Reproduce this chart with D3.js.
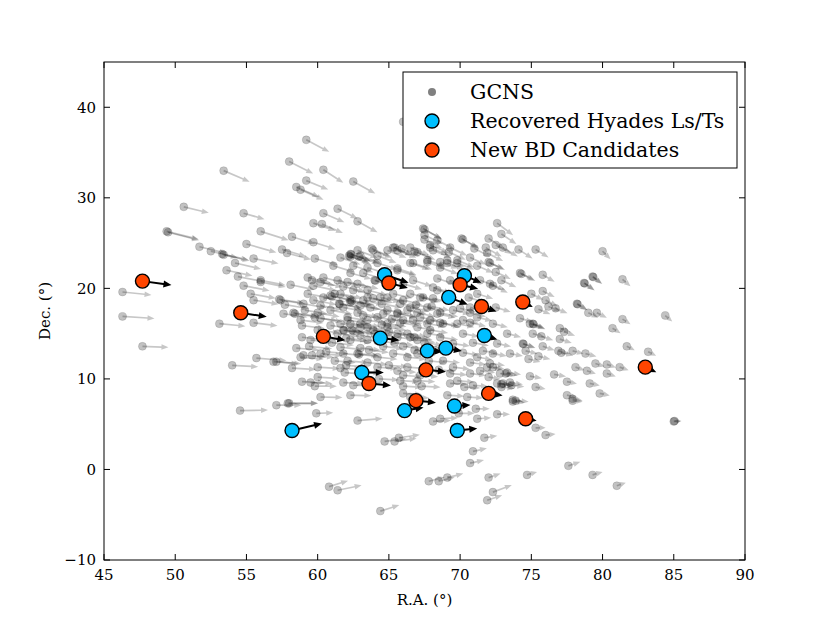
<!DOCTYPE html>
<html>
<head>
<meta charset="utf-8">
<script src="https://cdn.jsdelivr.net/npm/d3@7"></script>
<style>
  body { margin: 0; background: #fff; }
  text { font-family: "DejaVu Serif", serif; }
</style>
</head>
<body>
<svg id="drawing_region"></svg>
<script>
// [ra, dec, pmra, pmdec]
const gcns = [
  [59.2,36.4,92,-48],[58.0,34.0,96,-48],[53.4,33.0,104,-44],[59.2,31.9,88,-36],[58.5,31.2,92,-40],
  [58.8,30.9,92,-40],[50.6,29.0,100,-24],[54.8,28.3,84,-24],[56.0,26.3,112,-36],[58.2,25.7,92,-28],
  [59.7,27.2,88,-30],[59.7,25.1,88,-28],[49.4,26.3,128,-32],[49.5,26.2,124,-32],[51.7,24.6,108,-26],
  [52.5,24.1,108,-26],[53.3,23.8,104,-24],[53.4,23.7,104,-24],[55.0,24.9,120,-34],[57.5,24.3,96,-28],
  [57.85,23.9,96,-26],[54.2,22.8,104,-24],[55.5,23.3,100,-20],[53.6,22.0,104,-22],[54.4,21.3,104,-20],
  [56.0,20.9,100,-20],[54.8,20.3,104,-20],[58.1,20.4,96,-20],[55.3,19.4,100,-18],[55.5,18.7,100,-16],
  [57.3,18.8,100,-16],[57.4,18.7,100,-16],[59.0,18.3,92,-16],[58.3,17.3,96,-14],[58.4,17.2,96,-14],
  [57.6,17.2,96,-14],[59.7,18.7,92,-18],[59.6,20.9,92,-22],[59.8,23.3,92,-26],[46.3,19.6,116,-12],
  [46.3,16.9,128,-8],[53.1,16.1,104,-10],[55.5,16.2,96,-12],[58.8,16.5,92,-12],[58.9,14.6,92,-10],
  [47.7,13.6,104,-4],[58.5,13.4,92,-8],[58.8,12.4,92,-8],[54.0,11.5,104,-6],[55.7,12.3,120,-10],
  [56.9,11.9,100,-8],[57.1,11.9,100,-8],[58.2,11.2,96,-6],[58.9,9.7,92,-4],[54.55,6.5,112,2],
  [57.1,7.1,100,0],[57.9,7.3,120,0],[58.0,7.3,116,0],[59.8,9.2,88,0],[62.5,9.3,84,-2],
  [59.9,6.2,68,2],[62.8,5.4,100,8],[64.7,3.1,88,12],[65.4,3.1,88,12],[65.7,3.5,84,12],
  [66.0,9.2,76,-4],[67.3,9.2,76,-4],[66.5,8.0,76,-4],[68.1,5.3,72,4],[68.6,5.6,72,4],
  [70.3,9.1,64,-4],[70.5,8.0,64,-4],[69.9,6.2,64,0],[71.2,5.6,56,4],[71.1,6.7,56,0],
  [71.7,3.5,52,8],[70.9,2.0,56,12],[70.7,0.7,56,12],[60.8,-1.9,76,24],[61.4,-2.3,96,20],
  [64.4,-4.6,76,24],[67.8,-1.3,64,16],[68.5,-1.3,64,16],[69.1,-0.9,64,16],[72.0,-0.9,48,16],
  [72.3,-2.5,76,28],[71.9,-3.4,60,20],[72.6,6.1,52,0],[74.7,-0.6,40,12],[75.3,4.6,40,0],
  [76.0,3.8,40,4],[77.6,0.4,48,16],[79.3,-0.6,40,12],[81.0,-1.8,36,12],[85.0,5.3,28,0],
  [85.05,5.35,28,0],[73.7,7.5,48,-4],[77.9,7.6,40,-4],
  [72.6,27.2,64,-48],[72.9,26.0,60,-40],[72.0,25.5,64,-40],[72.5,24.8,64,-36],[73.0,24.5,60,-36],
  [71.8,24.5,64,-36],[71.9,23.9,64,-32],[74.1,24.3,56,-36],[75.3,24.3,52,-32],[80.0,24.1,32,-32],
  [72.0,22.9,60,-28],[72.1,22.8,60,-28],[74.2,21.7,56,-28],[74.3,21.6,56,-28],[75.8,21.5,48,-28],
  [79.3,21.3,36,-28],[79.35,21.25,36,-28],[78.7,20.6,40,-28],[78.75,20.55,40,-28],[81.4,21.0,32,-28],
  [72.5,21.8,60,-28],[72.9,20.9,60,-28],[72.3,20.3,60,-28],[75.0,19.4,48,-24],[75.8,19.7,48,-24],
  [76.0,18.7,48,-24],[78.2,18.3,40,-24],[78.25,18.25,40,-24],[79.0,17.3,40,-20],[79.6,17.3,40,-20],
  [75.5,17.7,48,-20],[76.7,17.8,48,-20],[76.2,18.0,48,-20],[84.4,17.0,28,-24],[81.4,16.6,32,-20],
  [80.7,15.6,32,-20],[75.1,16.1,48,-20],[75.15,16.05,48,-20],[77.0,15.6,44,-16],[77.3,15.2,44,-16],
  [75.7,14.7,48,-16],[74.4,13.9,48,-16],[74.45,13.85,48,-16],[75.8,13.6,48,-16],[77.0,14.4,48,-16],
  [76.9,13.1,44,-12],[77.9,13.1,44,-12],[78.8,12.8,44,-12],[81.7,13.6,32,-16],[83.2,13.0,32,-16],
  [74.6,13.1,48,-12],[74.8,12.2,48,-12],[75.5,12.5,48,-12],[77.1,12.9,48,-12],[78.1,11.3,36,-12],
  [78.9,10.9,36,-12],[79.5,11.7,36,-12],[80.3,11.6,36,-12],[81.2,11.3,36,-12],[80.3,10.6,36,-12],
  [76.6,10.5,48,-8],[74.9,10.3,48,-8],[73.2,10.6,48,-8],[72.3,11.3,48,-8],[72.0,10.2,48,-8],
  [79.1,9.5,40,-8],[77.5,9.7,40,-8],[73.7,7.7,40,-8],[75.3,9.1,40,-8],[77.5,8.2,40,-8],
  [77.9,7.8,40,-8],[79.8,8.4,40,-8],[72.9,9.4,52,-8],[73.5,9.6,52,-8],
  [60.4,33.1,80,-52],[62.5,31.8,88,-48],[61.4,28.8,80,-40],[60.4,28.3,84,-36],[62.8,27.4,80,-44],
  [60.3,27.1,84,-36],[67.4,26.6,72,-40],[67.5,26.5,72,-40],[67.5,25.4,72,-36],[70.1,25.5,64,-36],
  [70.2,25.4,64,-36],[63.8,24.4,72,-32],[65.4,24.5,72,-32],[65.9,24.4,72,-32],[66.8,24.1,72,-32],
  [67.9,24.8,72,-32],[69.3,24.5,68,-32],[71.0,24.4,64,-32],[62.2,23.6,80,-28],[62.3,23.5,80,-28],
  [61.6,23.4,80,-28],[62.9,23.5,80,-28],[66.0,38.4,72,-44],
  [56.0,20.7,100,-20],[59.7,20.3,92,-20],[60.2,20.7,88,-20],[61.8,20.2,88,-20],[62.8,20.5,84,-20],
  [63.5,19.8,80,-20],[57.7,18.2,96,-16],[60.2,18.1,88,-16],[60.9,19.2,88,-18],[61.0,19.1,88,-18],
  [61.2,19.4,88,-18],[61.5,18.3,88,-16],[61.55,18.25,88,-16],[62.4,18.6,84,-16],[63.0,18.1,80,-16],
  [59.8,16.8,92,-14],[60.2,16.7,88,-14],[60.9,15.9,88,-12],[62.1,16.8,84,-14],[62.3,16.1,84,-12],
  [63.0,16.1,80,-12],[63.5,15.7,80,-12],[62.4,15.4,84,-12],[62.5,15.3,84,-12],[61.8,15.4,84,-12],
  [61.85,15.35,84,-12],[61.6,13.5,88,-10],[62.8,12.8,84,-8],[62.9,12.7,84,-8],[59.6,12.6,88,-8],
  [62.1,12.0,84,-8],[63.5,11.8,80,-8],[60.0,10.2,88,-6],[61.9,10.7,84,-6],
  [67.5,25.9,72,-36],[68.4,25.3,68,-36],[62.3,23.8,80,-28],[62.35,23.75,80,-28],[63.0,23.6,80,-28],
  [64.2,23.6,76,-28],[64.9,24.2,76,-30],[65.6,24.2,76,-30],[67.0,24.0,72,-30],[68.1,24.2,72,-30],
  [69.2,24.0,68,-30],[61.1,22.5,84,-26],[62.5,22.5,80,-26],[63.5,22.3,80,-26],[64.0,20.9,80,-24],
  [64.05,20.85,80,-24],[65.6,22.2,76,-26],[66.5,22.8,76,-26],[67.7,22.9,72,-26],[68.6,22.9,72,-26],
  [69.1,22.8,68,-26],[69.8,23.1,68,-28],[71.2,22.5,64,-28],[59.3,21.2,92,-22],[60.4,21.2,88,-22],
  [61.4,20.9,84,-22],[62.1,20.7,84,-22],[66.0,20.5,76,-22],[66.7,20.9,76,-24],[68.1,20.1,72,-22],
  [68.4,21.1,72,-24],[71.4,20.9,64,-24],[72.1,20.5,60,-24],[59.3,19.4,92,-18],[60.4,19.0,88,-18],
  [62.3,18.7,84,-18],[63.2,18.7,80,-18],[63.9,18.9,80,-18],[64.9,19.0,76,-18],[66.0,18.7,76,-18],
  [67.2,19.0,72,-18],[68.1,18.9,72,-18],[70.6,19.0,64,-20],[71.2,19.4,64,-20],[59.1,17.6,92,-16],
  [60.0,17.3,88,-16],[60.9,17.6,88,-16],[61.8,17.9,84,-16],[62.8,17.3,84,-16],[63.7,17.9,80,-16],
  [64.6,17.2,80,-16],[65.6,17.3,76,-16],[66.3,17.6,76,-16],[67.0,17.3,72,-16],[67.7,17.9,72,-16],
  [68.6,17.3,72,-16],[69.5,17.6,68,-16],[70.7,17.9,64,-18],[72.5,17.9,60,-18],[58.9,15.9,92,-12],
  [61.6,16.1,88,-12],[63.5,16.5,80,-14],[64.9,16.1,76,-12],[65.8,16.2,76,-12],[66.7,16.5,76,-12],
  [67.7,16.1,72,-12],[68.6,16.2,72,-12],[69.8,16.1,68,-14],[70.7,16.2,64,-14],[72.3,16.1,60,-14],
  [59.5,14.3,92,-10],[61.4,15.0,88,-10],[62.3,14.3,84,-10],[63.5,14.3,80,-10],[65.6,15.0,76,-10],
  [66.5,14.6,76,-10],[67.7,15.0,72,-10],[68.6,14.6,72,-10],[70.2,15.0,64,-12],[70.9,14.0,64,-12],
  [59.0,12.6,92,-8],[60.2,12.8,88,-8],[61.8,12.8,84,-8],[63.0,13.4,80,-8],[64.2,12.4,80,-8],
  [65.3,12.8,76,-8],[66.3,12.4,76,-8],[67.0,12.8,72,-8],[70.2,12.9,64,-10],[71.2,12.4,60,-10],
  [72.3,12.8,56,-10],[60.0,11.3,88,-6],[61.6,11.2,84,-6],[64.2,11.3,80,-6],[65.6,10.9,76,-6],
  [66.0,10.4,76,-6],[69.5,11.3,68,-8],[70.7,10.6,64,-8],[71.9,11.3,60,-8],[59.5,9.6,88,-4],
  [61.8,9.6,84,-4],[65.8,9.8,76,-4],[69.3,9.5,68,-4],[72.6,9.5,56,-6],[60.2,8.0,88,-2],
  [62.3,8.2,84,-2],[69.1,8.2,68,-4],
  [72.6,13.9,56,-12],[73.3,15.0,56,-14],[74.9,16.1,52,-16],[74.2,16.7,52,-16],[75.1,15.0,48,-14],
  [73.5,12.8,52,-10],[71.6,13.1,60,-10],[70.7,11.8,64,-8],[71.4,10.9,60,-8],[72.1,11.7,60,-8],
  [72.8,10.6,56,-8],[73.3,10.7,56,-8],[66.3,11.3,76,-6],[67.0,9.8,72,-4],[66.0,8.4,76,-4],
  [70.9,9.3,60,-4],[73.0,9.5,52,-6],[73.6,9.3,52,-6],[73.9,7.6,52,-4],[72.9,9.1,52,-6],
  [69.3,10.6,68,-6],[69.8,9.8,68,-6],[68.8,12.0,68,-8],[69.5,13.9,68,-10],[66.8,14.6,72,-10],
  [71.2,16.8,60,-14],[70.2,16.5,64,-14],[70.0,17.8,64,-16],[70.7,17.3,64,-16],
  [66.5,17.9,76,-16],[67.2,16.8,72,-14],[67.9,16.5,72,-14],[66.0,16.5,76,-14],[67.0,15.7,72,-12],
  [66.3,15.0,76,-12],[67.9,15.4,72,-12],[65.6,17.2,76,-16],[64.9,17.6,76,-16],[64.2,16.8,80,-14],
  [62.3,18.5,84,-16],[62.1,16.5,84,-14],[63.0,15.7,80,-12],[63.9,15.4,80,-12],[64.9,15.7,76,-12],
  [65.6,14.6,76,-10],[67.0,14.3,72,-10],[68.4,17.2,72,-16],[68.8,16.1,68,-14],[61.6,19.4,88,-18],
  [62.5,19.8,84,-18],[63.5,19.0,80,-18],[64.4,19.0,80,-18],[65.3,19.4,76,-18],[66.5,19.4,76,-18],
  [67.4,19.0,72,-18],[68.4,19.8,72,-20],[69.3,20.9,68,-22],[62.3,21.7,84,-24],[63.2,21.7,80,-24],
  [64.2,22.8,80,-26],[65.6,22.0,76,-24],[66.7,22.8,76,-26],[67.7,23.1,72,-26],[68.6,22.3,72,-26],
  [69.8,22.8,68,-26],[70.7,23.4,64,-28],[62.8,24.2,80,-30],[63.9,24.2,76,-30],[65.3,24.5,76,-30],
  [66.5,24.5,76,-30],[67.9,24.5,72,-30],[69.1,23.1,68,-28],
  [64.5,16.0,80,-12],[65.2,16.6,76,-14],[65.0,15.2,76,-12],[64.0,15.0,80,-12],[63.6,13.2,80,-10],
  [64.6,13.6,80,-10],[66.0,13.6,76,-10],[65.4,14.0,76,-10],[66.8,13.2,72,-8],[64.2,14.2,80,-10],
  [63.0,14.8,80,-10],[62.0,14.5,84,-10],[65.8,18.3,76,-16],[64.5,18.3,80,-16],[63.2,17.0,80,-14],
  [66.9,18.2,72,-16],[68.0,18.0,72,-16],[67.5,14.0,72,-10],[68.2,13.2,72,-8],[61.0,14.0,88,-10],
  [60.6,13.0,88,-8],[61.2,12.0,84,-8],[62.0,11.5,84,-6],[63.0,10.8,80,-6],[64.3,10.0,80,-4],
  [65.0,11.5,76,-6],[67.8,12.0,72,-8],[68.5,11.0,68,-6],[67.2,10.4,72,-6],[60.0,15.4,88,-12],
  [59.4,13.6,92,-10]
];

const hyades = [
  [58.2,4.3,120,28],[63.1,10.7,88,0],[66.1,6.5,76,12],[69.6,7.0,64,4],[69.8,4.3,80,8],
  [64.7,21.5,96,-32],[70.3,21.4,68,-28],[69.2,19.0,76,-28],[64.4,14.5,76,-8],[67.7,13.1,60,-4],
  [69.0,13.4,64,-12],[71.7,14.8,52,-16]
];

const candidates = [
  [47.7,20.8,116,-16],[54.6,17.3,104,-16],[60.4,14.7,88,-16],[65.0,20.6,76,-20],[70.0,20.4,72,-16],
  [71.5,18.0,60,-20],[74.4,18.5,40,-20],[63.6,9.5,88,-8],[67.6,11.0,80,-8],[66.9,7.6,80,-8],
  [72.0,8.4,56,-8],[74.6,5.6,44,-8],[83.0,11.3,44,-20]
];

const xTicks = [45, 50, 55, 60, 65, 70, 75, 80, 85, 90];
const yTicks = [-10, 0, 10, 20, 30, 40];
const legendLabels = ["GCNS", "Recovered Hyades Ls/Ts", "New BD Candidates"];

class QuiverPlot {
  constructor(config) {
    this.config = config;
    this.init();
  }

  init() {
    let self = this;
    const c = self.config;
    self.svg = d3.select(c.parent).attr('width', c.width).attr('height', c.height);
    self.inner_width = c.width - c.margin.left - c.margin.right;
    self.inner_height = c.height - c.margin.top - c.margin.bottom;
    self.chart = self.svg.append('g')
      .attr('transform', `translate(${c.margin.left},${c.margin.top})`);

    self.xscale = d3.scaleLinear().domain([45, 90]).range([0, self.inner_width]);
    self.yscale = d3.scaleLinear().domain([-10, 45]).range([self.inner_height, 0]);
    // quiver scale: mas/yr -> px
    self.pmscale = d3.scaleLinear().domain([0, 100]).range([0, 25]);
  }

  arrowPath(d, shaft, headLen, headW) {
    let self = this;
    const x0 = self.xscale(d[0]), y0 = self.yscale(d[1]);
    const dx = self.pmscale(d[2]), dy = -self.pmscale(d[3]);
    const L = Math.hypot(dx, dy);
    const ux = dx / L, uy = dy / L, nx = -uy, ny = ux;
    const hl = Math.min(headLen, L * 0.6);
    const hw = Math.min(headW, hl * 0.9) / 2, sw = shaft / 2;
    const bx = x0 + ux * (L - hl), by = y0 + uy * (L - hl);
    const p = [
      [x0 + nx * sw, y0 + ny * sw], [bx + nx * sw, by + ny * sw], [bx + nx * hw, by + ny * hw],
      [x0 + dx, y0 + dy],
      [bx - nx * hw, by - ny * hw], [bx - nx * sw, by - ny * sw], [x0 - nx * sw, y0 - ny * sw]
    ];
    return 'M' + p.map(q => q[0].toFixed(2) + ',' + q[1].toFixed(2)).join('L') + 'Z';
  }

  render() {
    let self = this;
    const w = self.inner_width, h = self.inner_height;

    const plot = self.chart.append('g');

    const g1 = plot.append('g');
    g1.selectAll('path').data(gcns).join('path')
      .attr('d', d => self.arrowPath(d, 1.7, 7, 5.5))
      .attr('fill', '#000').attr('fill-opacity', 0.22);
    g1.selectAll('circle').data(gcns).join('circle')
      .attr('cx', d => self.xscale(d[0])).attr('cy', d => self.yscale(d[1]))
      .attr('r', 4)
      .attr('fill', '#000').attr('fill-opacity', 0.24)
      .attr('stroke', '#000').attr('stroke-opacity', 0.12).attr('stroke-width', 1);

    [[hyades, '#00bfff'], [candidates, '#ff4500']].forEach(([set, col]) => {
      const g = plot.append('g');
      g.selectAll('path').data(set).join('path')
        .attr('d', d => self.arrowPath(d, 2, 8, 7))
        .attr('fill', '#000');
      g.selectAll('circle').data(set).join('circle')
        .attr('cx', d => self.xscale(d[0])).attr('cy', d => self.yscale(d[1]))
        .attr('r', 7)
        .attr('fill', col)
        .attr('stroke', '#000').attr('stroke-width', 1.4);
    });

    // frame and inward ticks on all four sides
    self.chart.append('rect')
      .attr('width', w).attr('height', h)
      .attr('fill', 'none').attr('stroke', '#000').attr('stroke-width', 1);

    const ticks = self.chart.append('g').attr('stroke', '#000').attr('stroke-width', 1);
    xTicks.forEach(t => {
      const x = self.xscale(t);
      ticks.append('line').attr('x1', x).attr('x2', x).attr('y1', h).attr('y2', h - 6);
      ticks.append('line').attr('x1', x).attr('x2', x).attr('y1', 0).attr('y2', 6);
    });
    yTicks.forEach(t => {
      const y = self.yscale(t);
      ticks.append('line').attr('x1', 0).attr('x2', 6).attr('y1', y).attr('y2', y);
      ticks.append('line').attr('x1', w).attr('x2', w - 6).attr('y1', y).attr('y2', y);
    });

    const fmt = t => (t < 0 ? '\u2212' + Math.abs(t) : String(t));
    self.chart.append('g').selectAll('text').data(xTicks).join('text')
      .attr('x', d => self.xscale(d)).attr('y', h + 20)
      .attr('text-anchor', 'middle').attr('font-size', '15px')
      .text(fmt);
    self.chart.append('g').selectAll('text').data(yTicks).join('text')
      .attr('x', -8).attr('y', d => self.yscale(d)).attr('dy', '0.35em')
      .attr('text-anchor', 'end').attr('font-size', '15px')
      .text(fmt);

    self.chart.append('text')
      .attr('x', w / 2).attr('y', h + 45)
      .attr('text-anchor', 'middle').attr('font-size', '15px')
      .text('R.A. (\u00b0)');
    self.chart.append('text')
      .attr('transform', `translate(-54,${h / 2}) rotate(-90)`)
      .attr('text-anchor', 'middle').attr('font-size', '15px')
      .text('Dec. (\u00b0)');

    // legend
    const lg = self.chart.append('g').attr('transform', `translate(${w - 342},10)`);
    lg.append('rect').attr('width', 334).attr('height', 96)
      .attr('fill', '#fff').attr('stroke', '#000').attr('stroke-width', 1);
    const marks = [
      {r: 4, fill: '#808080', stroke: 'none'},
      {r: 7, fill: '#00bfff', stroke: '#000'},
      {r: 7, fill: '#ff4500', stroke: '#000'}
    ];
    legendLabels.forEach((lab, i) => {
      const y = 20 + i * 29;
      lg.append('circle').attr('cx', 29).attr('cy', y).attr('r', marks[i].r)
        .attr('fill', marks[i].fill).attr('stroke', marks[i].stroke).attr('stroke-width', 1.4);
      lg.append('text').attr('x', 67).attr('y', y).attr('dy', '0.35em')
        .attr('font-size', '20.5px').text(lab);
    });
  }
}

const plot = new QuiverPlot({
  parent: '#drawing_region',
  width: 830,
  height: 623,
  margin: {top: 62, right: 85, bottom: 63, left: 104}
});
plot.render();
</script>
</body>
</html>
